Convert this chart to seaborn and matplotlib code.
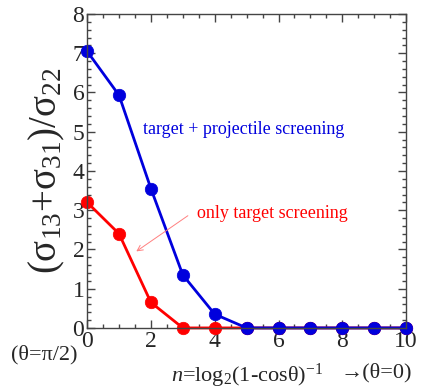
import numpy as np
import pandas as pd
import matplotlib
matplotlib.use("Agg")
import matplotlib.pyplot as plt
import seaborn as sns
from matplotlib.ticker import MultipleLocator

# data
n_vals = [0, 1, 2, 3, 4, 5, 6, 7, 8, 9, 10]
both_screening = [7.05, 5.93, 3.55, 1.35, 0.35, 0, 0, 0, 0, 0, 0]
target_screening = [3.2, 2.4, 0.65, 0, 0, 0, 0, 0, 0, 0, 0]

sns.set_style("ticks")
plt.rcParams['font.family'] = ['Liberation Serif', 'DejaVu Serif']
plt.rcParams['mathtext.fontset'] = 'custom'
plt.rcParams['mathtext.rm'] = 'Liberation Serif'
plt.rcParams['mathtext.it'] = 'Liberation Serif:italic'

df = pd.DataFrame({'n': n_vals, 'both': both_screening, 'target': target_screening})

fig = plt.figure(figsize=(4.4, 3.89), dpi=100)
ax = fig.add_axes([0.198, 0.157, 0.725, 0.807])

sns.lineplot(x='n', y='target', data=df, ax=ax, color='#ff0000', lw=2,
             marker='o', markersize=9, clip_on=False)
sns.lineplot(x='n', y='both', data=df, ax=ax, color='#0000dd', lw=2,
             marker='o', markersize=9, clip_on=False)
# solid markers, no white rim
for line in ax.lines:
    line.set_markeredgecolor(line.get_color())
    line.set_markerfacecolor(line.get_color())
    line.set_markeredgewidth(0.5)

ax.set_xlim(0, 10)
ax.set_ylim(0, 8)
ax.xaxis.set_major_locator(MultipleLocator(2))
ax.xaxis.set_minor_locator(MultipleLocator(0.5))
ax.yaxis.set_major_locator(MultipleLocator(1))
ax.yaxis.set_minor_locator(MultipleLocator(0.2))
ax.tick_params(which='both', direction='in', top=True, right=True, labelsize=17,
               pad=2, color='#444444')
ax.tick_params(which='major', length=6, width=1)
ax.tick_params(which='minor', length=3, width=1)
for s in ax.spines.values():
    s.set_linewidth(1)
    s.set_color('#444444')

ax.set_xlabel(r'$n$=log$_2$(1-cos' + 'θ)' + r'$^{-1}$', fontsize=16, labelpad=7)
ax.set_ylabel('(σ' + r'$_{13}$' + '+σ' + r'$_{31}$' + ')/σ' + r'$_{22}$',
              fontsize=28, labelpad=4)
fig.text(0.1, 0.088, '(θ=π/2)', fontsize=16, ha='center', va='center')
fig.text(0.855, 0.042, '→(θ=0)', fontsize=16, ha='center', va='center')

ax.text(1.75, 4.95, 'target + projectile screening', color='#0000dd', fontsize=13)
ax.text(3.45, 2.8, 'only target screening', color='#ff0000', fontsize=13)
ax.annotate('', xy=(1.47, 1.91), xytext=(3.23, 2.9),
            arrowprops=dict(arrowstyle='->', color='#ff8080', lw=0.7))

plt.savefig("out.png", dpi=100)
